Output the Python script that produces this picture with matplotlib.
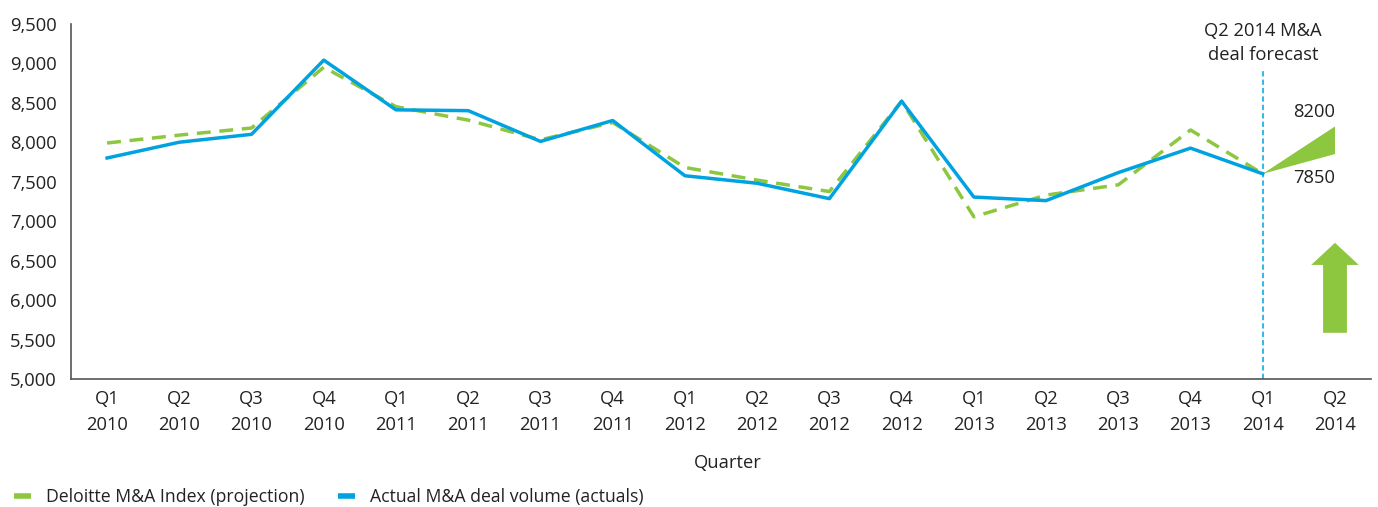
import numpy as np
import matplotlib.pyplot as plt
from matplotlib.lines import Line2D

plt.rcParams['font.family'] = ['Open Sans', 'DejaVu Sans']

quarters = ['Q1\n2010', 'Q2\n2010', 'Q3\n2010', 'Q4\n2010',
            'Q1\n2011', 'Q2\n2011', 'Q3\n2011', 'Q4\n2011',
            'Q1\n2012', 'Q2\n2012', 'Q3\n2012', 'Q4\n2012',
            'Q1\n2013', 'Q2\n2013', 'Q3\n2013', 'Q4\n2013',
            'Q1\n2014', 'Q2\n2014']
actuals = [7800, 8000, 8100, 9040, 8410, 8400, 8010, 8275,
           7575, 7480, 7285, 8520, 7305, 7260, 7615, 7925, 7600]
projection = [7990, 8090, 8180, 8950, 8450, 8280, 8030, 8250,
              7680, 7520, 7375, 8520, 7055, 7330, 7460, 8155, 7600]
forecast_low = 7850
forecast_high = 8200
yticks = np.arange(5000, 9501, 500)

blue = '#00A3E0'
green = '#8DC63F'
text_color = '#222222'
fs = 13.2

fig = plt.figure(figsize=(13.78, 5.07), dpi=100)
ax = fig.add_axes([0.0515, 0.2525, 0.9435, 0.7005])

x = np.arange(len(quarters))
xa = x[:len(actuals)]

ax.plot(xa, projection, '--', color=green, linewidth=2.5, dashes=(4, 2.5),
        label='Deloitte M&A Index (projection)', zorder=3)
ax.plot(xa, actuals, '-', color=blue, linewidth=2.5,
        label='Actual M&A deal volume (actuals)', zorder=4)

# forecast wedge from the last actual to the Q2 2014 range
last = xa[-1]
ax.fill([last, x[-1], x[-1]], [actuals[-1], forecast_high, forecast_low],
        color=green, lw=0, zorder=3)
ax.text(x[-1], forecast_high + 180, f'{forecast_high}', ha='right', va='center',
        fontsize=fs, color=text_color)
ax.text(x[-1], forecast_low - 300, f'{forecast_low}', ha='right', va='center',
        fontsize=fs, color=text_color)

# upward arrow
ax.fill([x[-1] - 0.165, x[-1] + 0.165, x[-1] + 0.165, x[-1] + 0.33,
         x[-1], x[-1] - 0.33, x[-1] - 0.165],
        [5585, 5585, 6445, 6445, 6725, 6445, 6445],
        color=green, lw=0, zorder=3)

# forecast marker line
ax.plot([last, last], [5000, 8920], color=blue, lw=1.1, dashes=(3.5, 2),
        zorder=2)
ax.text(last, 8985, 'Q2 2014 M&A\ndeal forecast', ha='center', va='bottom',
        fontsize=fs, color=text_color, linespacing=1.45)

ax.set_xlim(-0.5, len(quarters) - 0.5)
ax.set_ylim(5000, 9500)
ax.set_yticks(yticks)
ax.set_yticklabels([f'{v:,}' for v in yticks])
ax.set_xticks(x)
ax.set_xticklabels(quarters, linespacing=1.6)
ax.tick_params(length=0, labelsize=fs, colors=text_color, pad=10)
ax.tick_params(axis='x', pad=8)
for side in ['top', 'right']:
    ax.spines[side].set_visible(False)
for side in ['left', 'bottom']:
    ax.spines[side].set_color('#555555')
    ax.spines[side].set_linewidth(1.2)

fig.text(0.528, 0.087, 'Quarter', ha='center', va='center', fontsize=fs,
         color=text_color)

handles = [Line2D([], [], color=green, lw=4, solid_capstyle='butt'),
           Line2D([], [], color=blue, lw=4, solid_capstyle='butt')]
fig.legend(handles, ['Deloitte M&A Index (projection)',
                     'Actual M&A deal volume (actuals)'],
           loc='lower left', bbox_to_anchor=(-0.001, -0.03), ncol=2, frameon=False,
           fontsize=12.7, handlelength=0.95, handletextpad=0.85,
           columnspacing=1.9, labelcolor=text_color)

fig.savefig('out.png', dpi=100)
